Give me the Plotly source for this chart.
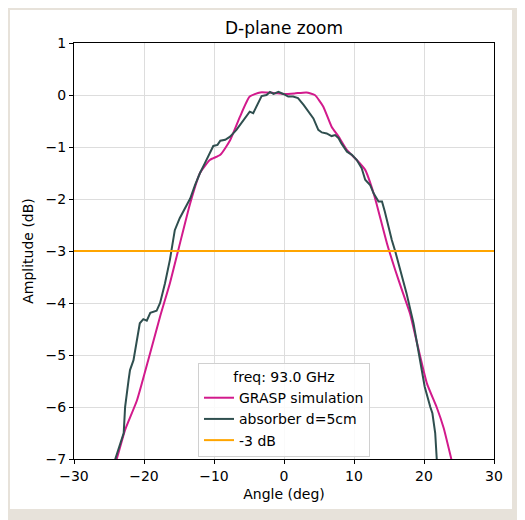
import plotly.graph_objects as go

# GRASP simulation (angle in deg, amplitude in dB)
grasp_angle = [-25.0, -23.9, -22.7, -21.0, -19.4, -17.7, -16.3, -15.1, -13.4, -12.0, -10.6, -9.1,
               -7.7, -6.3, -4.9, -3.4, -1.5, 0.0, 1.5, 3.2, 4.4, 5.6, 6.8, 7.8, 9.0, 10.4, 11.6,
               12.5, 13.2, 14.7, 15.9, 17.0, 18.0, 18.9, 20.4, 21.8, 22.8, 23.9, 24.6]
grasp_db = [-7.4, -7.0, -6.44, -5.87, -5.1, -4.26, -3.62, -2.98, -2.08, -1.5, -1.25, -1.15,
            -0.87, -0.42, -0.03, 0.05, 0.04, 0.02, 0.03, 0.05, 0.0, -0.22, -0.61, -0.8, -1.06, -1.25, -1.44,
            -1.76, -2.08, -2.85, -3.37, -3.81, -4.2, -4.71, -5.54, -6.0, -6.4, -7.0, -7.4]

# Measurement with absorber d=5cm
abs_angle = [-24.6, -24.1, -22.9, -22.7, -22.2, -22.0, -21.5, -21.0, -20.6, -20.1, -19.6, -19.1,
             -18.2, -17.7, -17.0, -16.3, -16.1, -15.6, -14.9, -14.1, -13.4, -12.7, -12.0, -11.3,
             -10.6, -10.1, -9.5, -9.1, -8.4, -7.7, -6.8, -5.8, -4.9, -4.4, -3.7, -3.2, -2.5, -2.0,
             -1.5, -0.8, -0.1, 0.6, 1.3, 2.0, 2.8, 3.5, 4.2, 4.9, 5.4, 6.1, 6.8, 7.3, 7.8, 8.2,
             9.0, 9.7, 10.4, 11.1, 11.6, 12.3, 12.8, 13.5, 14.0, 14.4, 14.9, 15.4, 15.9, 16.3,
             17.5, 18.5, 19.4, 20.1, 20.9, 21.2, 21.6, 21.8, 22.0]
abs_db = [-7.4, -7.0, -6.5, -6.0, -5.48, -5.29, -5.1, -4.71, -4.39, -4.31, -4.34, -4.19,
          -4.15, -4.0, -3.62, -3.17, -2.98, -2.6, -2.37, -2.15, -1.99, -1.73, -1.5, -1.31,
          -1.12, -0.98, -0.96, -0.88, -0.86, -0.8, -0.67, -0.48, -0.32, -0.35, -0.16, -0.02, 0.0, 0.06,
          0.02, 0.06, 0.02, -0.03, -0.03, -0.06, -0.19, -0.32, -0.45, -0.67, -0.72, -0.74, -0.79, -0.77, -0.83, -0.93,
          -1.09, -1.15, -1.25, -1.41, -1.63, -1.73, -1.89, -2.05, -2.05, -2.24, -2.53, -2.79, -3.01, -3.2,
          -3.81, -4.39, -5.1, -5.61, -6.0, -6.12, -6.5, -7.0, -7.4]

ref_angle = [-30, 30]
ref_db = [-3, -3]

x_ticks = [-30, -20, -10, 0, 10, 20, 30]
x_labels = ["\u221230", "\u221220", "\u221210", "0", "10", "20", "30"]
y_ticks = [1, 0, -1, -2, -3, -4, -5, -6, -7]
y_labels = ["1", "0", "\u22121", "\u22122", "\u22123", "\u22124", "\u22125", "\u22126", "\u22127"]

# page body adds an 8px offset; compensate
OFF = 8
W, H = 525 - OFF, 520 - OFF
L, R, T, B = 74 - OFF, 31, 43 - OFF, 61
PW, PH = W - L - R, H - T - B

fig = go.Figure()
fig.add_trace(go.Scatter(x=grasp_angle, y=grasp_db, mode="lines", name="GRASP simulation",
                         line=dict(color="#d21a8c", width=2, shape="spline", smoothing=0.5)))
fig.add_trace(go.Scatter(x=abs_angle, y=abs_db, mode="lines", name="absorber d=5cm",
                         line=dict(color="#2f4f4f", width=2)))
fig.add_trace(go.Scatter(x=ref_angle, y=ref_db, mode="lines", name="-3 dB",
                         line=dict(color="#ffa500", width=2)))

font = "DejaVu Sans, Arial, sans-serif"
fig.update_layout(
    width=W, height=H,
    margin=dict(l=L, r=R, t=T, b=B),
    paper_bgcolor="#e7e2da",
    plot_bgcolor="white",
    font=dict(family=font, size=14, color="black"),
    title=dict(text="D-plane zoom", x=(L + PW / 2) / W, xanchor="center",
               y=1 - (28 - OFF) / H, yanchor="middle", font=dict(size=17, family=font)),
    showlegend=True,
    legend=dict(
        title=dict(text="freq: 93.0 GHz", side="top center", font=dict(size=14)),
        x=0.5, xanchor="center", y=0.005, yanchor="bottom",
        bgcolor="rgba(255,255,255,0.85)", bordercolor="#d0d0d0", borderwidth=1,
        font=dict(size=14), tracegroupgap=0, itemwidth=30,
    ),
    shapes=[dict(type="rect", xref="paper", yref="paper",
                 x0=(10 - OFF - L) / PW, x1=(512 - OFF - L) / PW,
                 y0=(H - B - (509 - OFF)) / PH, y1=(H - B - (10 - OFF)) / PH,
                 fillcolor="white", line=dict(width=0), layer="below")],
)
fig.update_xaxes(range=[-30, 30], tickvals=x_ticks, ticktext=x_labels,
                 showgrid=True, gridcolor="#dddddd", gridwidth=1, zeroline=False,
                 showline=True, linecolor="black", linewidth=1.2, mirror=True,
                 ticks="outside", ticklen=4, tickcolor="black",
                 title=dict(text="Angle (deg)", standoff=6, font=dict(size=14)))
fig.update_yaxes(range=[-7, 1], tickvals=y_ticks, ticktext=y_labels,
                 showgrid=True, gridcolor="#dddddd", gridwidth=1, zeroline=False,
                 showline=True, linecolor="black", linewidth=1.2, mirror=True,
                 ticks="outside", ticklen=4, tickcolor="black",
                 title=dict(text="Amplitude (dB)", standoff=8, font=dict(size=14)))

fig.write_html("out.html")
